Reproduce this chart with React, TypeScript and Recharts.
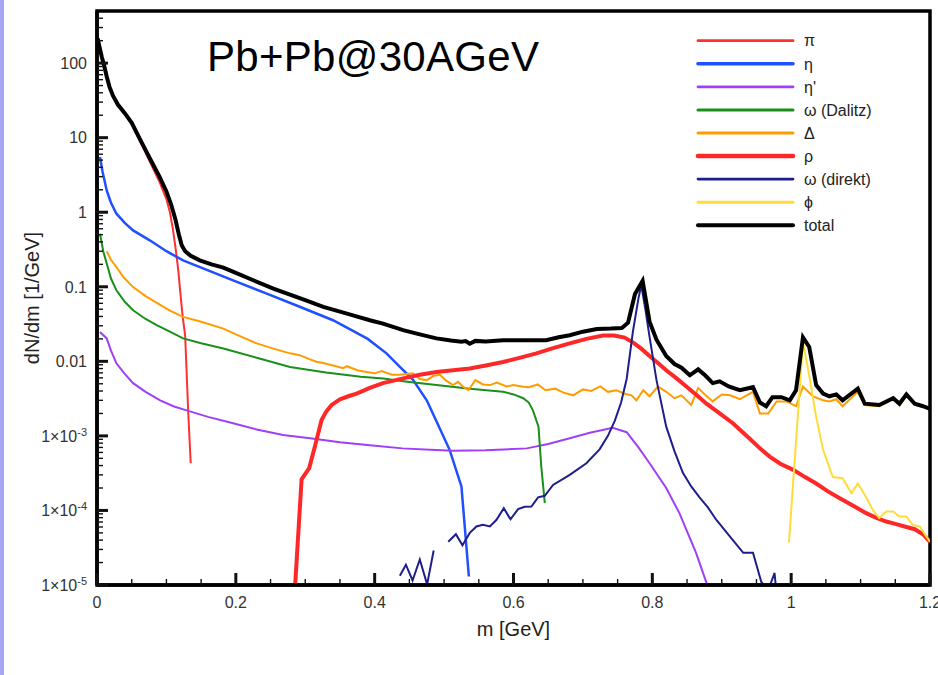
import { Legend, Line, LineChart, ReferenceArea, XAxis, YAxis } from 'recharts'

type Pt = [number, number | null]

// m [GeV], dN/dm [1/GeV]
const PI: Pt[] = [
  [0.001, 212], [0.004, 156], [0.007, 118], [0.01, 94], [0.014, 65], [0.018, 47.5],
  [0.023, 36], [0.03, 27.3], [0.04, 20.8], [0.05, 15.3], [0.06, 9.8], [0.07, 6.3],
  [0.08, 4.0], [0.09, 2.55], [0.1, 1.5], [0.105, 1.0], [0.109, 0.62], [0.113, 0.34],
  [0.117, 0.17], [0.1205, 0.075], [0.1234, 0.04], [0.127, 0.022], [0.1315, 0.002],
  [0.135, 0.00043],
]

const ETA: Pt[] = [
  [0.0043, 5.5], [0.008, 3.5], [0.014, 1.96], [0.02, 1.35], [0.028, 0.955], [0.04, 0.72],
  [0.052, 0.57], [0.076, 0.42], [0.1, 0.3], [0.124, 0.226], [0.16, 0.166], [0.196, 0.122],
  [0.24, 0.084], [0.292, 0.054], [0.34, 0.0356], [0.39, 0.02], [0.417, 0.0128],
  [0.44, 0.0078], [0.455, 0.0057], [0.475, 0.003], [0.49, 0.0015], [0.508, 0.00065],
  [0.525, 0.00021], [0.5357, 0.000013],
]

const ETA_PRIME: Pt[] = [
  [0.0043, 0.0248], [0.014, 0.0203], [0.02, 0.014], [0.028, 0.0094], [0.04, 0.0068],
  [0.052, 0.0051], [0.07, 0.0039], [0.091, 0.003], [0.11, 0.0025], [0.129, 0.0022],
  [0.16, 0.0018], [0.196, 0.00148], [0.23, 0.00122], [0.268, 0.00103], [0.307, 0.00093],
  [0.35, 0.00082], [0.393, 0.00075], [0.44, 0.00068], [0.48, 0.00065], [0.513, 0.00063],
  [0.56, 0.00064], [0.619, 0.00068], [0.65, 0.00078], [0.681, 0.00093], [0.71, 0.0011],
  [0.743, 0.00128], [0.763, 0.00112], [0.78, 0.0007], [0.796, 0.00043], [0.82, 0.0002],
  [0.839, 0.000092], [0.863, 0.000027], [0.878, 0.0000107], [0.885, 0.000007],
]

const OMEGA_DALITZ: Pt[] = [
  [0.0043, 0.515], [0.009, 0.3], [0.014, 0.205], [0.02, 0.13], [0.028, 0.0897],
  [0.04, 0.063], [0.052, 0.0484], [0.07, 0.037], [0.086, 0.0305], [0.105, 0.025],
  [0.124, 0.0203], [0.15, 0.0175], [0.182, 0.0149], [0.23, 0.0112], [0.278, 0.0084],
  [0.33, 0.0071], [0.38, 0.0062], [0.412, 0.0059], [0.45, 0.0053], [0.489, 0.0048],
  [0.537, 0.0043], [0.585, 0.0039], [0.6, 0.0036], [0.614, 0.0032], [0.622, 0.0028],
  [0.628, 0.0022], [0.636, 0.00133], [0.64, 0.00039], [0.6451, 0.000125],
]

const DELTA: Pt[] = [
  [0.014, 0.3], [0.02, 0.23], [0.028, 0.184], [0.038, 0.135], [0.052, 0.099], [0.07, 0.075],
  [0.088, 0.0596], [0.105, 0.048], [0.124, 0.0395], [0.15, 0.034], [0.182, 0.0275],
  [0.205, 0.022], [0.23, 0.0174], [0.254, 0.0148], [0.278, 0.0128], [0.292, 0.0121],
  [0.305, 0.0108], [0.316, 0.0099], [0.326, 0.0095], [0.34, 0.0088], [0.355, 0.0081],
  [0.36, 0.0086], [0.375, 0.0076], [0.388, 0.0072], [0.4, 0.0069], [0.41, 0.0074],
  [0.425, 0.0066], [0.436, 0.0066], [0.455, 0.0069], [0.465, 0.0058], [0.475, 0.0056],
  [0.485, 0.0064], [0.494, 0.0066], [0.503, 0.0055], [0.513, 0.0048], [0.52, 0.0053],
  [0.527, 0.0046], [0.535, 0.0041], [0.545, 0.0056], [0.556, 0.0049], [0.566, 0.0048],
  [0.576, 0.0052], [0.59, 0.0046], [0.6, 0.0048], [0.612, 0.0046], [0.622, 0.0045],
  [0.635, 0.0049], [0.646, 0.0041], [0.66, 0.0043], [0.672, 0.0038], [0.686, 0.0035],
  [0.7, 0.0042], [0.712, 0.004], [0.725, 0.0046], [0.736, 0.0039], [0.748, 0.0041],
  [0.759, 0.0037], [0.77, 0.0035], [0.777, 0.003], [0.787, 0.0041], [0.796, 0.0034],
  [0.808, 0.0046], [0.82, 0.0039], [0.832, 0.0032], [0.842, 0.0035], [0.856, 0.0026],
  [0.866, 0.0044], [0.874, 0.0037], [0.887, 0.0029], [0.9, 0.0036], [0.912, 0.0035],
  [0.926, 0.0031], [0.945, 0.0039], [0.955, 0.002], [0.967, 0.002], [0.979, 0.0029],
  [0.993, 0.0029], [1.007, 0.0025], [1.017, 0.0046], [1.031, 0.0034], [1.046, 0.003],
  [1.055, 0.0029], [1.065, 0.0031], [1.074, 0.0025], [1.096, 0.0039], [1.106, 0.0026],
  [1.127, 0.0025], [1.147, 0.0032], [1.156, 0.0026], [1.166, 0.0034], [1.178, 0.0027],
  [1.19, 0.0025], [1.2, 0.0023],
]

const RHO: Pt[] = [
  [0.2835, 0.000005], [0.2947, 0.00026], [0.3057, 0.00037], [0.3135, 0.0007],
  [0.3235, 0.00163], [0.33, 0.0021], [0.338, 0.0026], [0.35, 0.0031], [0.362, 0.0034],
  [0.374, 0.0037], [0.393, 0.0044],
  [0.412, 0.0051], [0.441, 0.0059], [0.465, 0.0066], [0.489, 0.0072], [0.513, 0.0076],
  [0.537, 0.008], [0.56, 0.0088], [0.585, 0.0098], [0.61, 0.0112], [0.633, 0.0128],
  [0.657, 0.015], [0.681, 0.0174], [0.705, 0.02], [0.729, 0.0222], [0.745, 0.0222],
  [0.76, 0.0208], [0.772, 0.018], [0.784, 0.0148], [0.796, 0.0118], [0.808, 0.0095],
  [0.82, 0.0076], [0.835, 0.0059], [0.849, 0.0046], [0.864, 0.0035], [0.878, 0.0027],
  [0.897, 0.002], [0.916, 0.00148], [0.94, 0.00092], [0.955, 0.00068], [0.97, 0.00052],
  [0.985, 0.00042], [1.003, 0.00035], [1.02, 0.00028], [1.036, 0.00023], [1.053, 0.00018],
  [1.07, 0.000146], [1.09, 0.000115], [1.108, 0.000092], [1.122, 0.00008], [1.137, 0.000071],
  [1.15, 0.000066], [1.166, 0.00006], [1.178, 0.000056], [1.19, 0.000048], [1.2, 0.000038],
]

const OMEGA_DIREKT: Pt[] = [
  [0.4363, 0.0000133], [0.445, 0.0000187], [0.4546, 0.0000115], [0.465, 0.000022],
  [0.4756, 0.0000102], [0.485, 0.000029], [0.495, null], [0.506, 0.000038],
  [0.517, 0.000048], [0.5265, 0.000034], [0.537, 0.00005], [0.5466, 0.000061],
  [0.556, 0.000064], [0.566, 0.000061], [0.5755, 0.000075], [0.586, 0.000107],
  [0.5957, 0.000076], [0.6066, 0.000104], [0.616, 0.000112], [0.6258, 0.000113],
  [0.6354, 0.00015], [0.645, 0.000157], [0.657, 0.00022], [0.681, 0.0003], [0.705, 0.00043],
  [0.724, 0.00066], [0.736, 0.001], [0.746, 0.0016], [0.755, 0.0028], [0.763, 0.0058],
  [0.772, 0.025], [0.78, 0.07], [0.784, 0.105], [0.79, 0.05], [0.796, 0.0213],
  [0.806, 0.0056], [0.82, 0.00133], [0.832, 0.00062], [0.844, 0.00032], [0.856, 0.00021],
  [0.868, 0.00015], [0.88, 0.00011], [0.892, 0.000075], [0.904, 0.000055], [0.916, 0.00004],
  [0.931, 0.000027], [0.945, 0.000027], [0.957, 0.000011], [0.967, 0.0000085],
  [0.976, 0.0000145], [0.982, 0.000004],
]

const PHI: Pt[] = [
  [0.9968, 0.000037], [1.017, 0.018], [1.026, 0.0065], [1.036, 0.0018], [1.046, 0.00065],
  [1.06, 0.00028], [1.074, 0.00027], [1.087, 0.00017], [1.096, 0.00023], [1.108, 0.00015],
  [1.118, 0.0001], [1.127, 0.000079], [1.137, 0.000097], [1.147, 0.000097],
  [1.156, 0.000083], [1.166, 0.000083], [1.175, 0.000064], [1.185, 0.000061], [1.2, 0.000038],
]

const TOTAL: Pt[] = [
  [0.001, 215], [0.004, 158], [0.007, 120], [0.01, 95], [0.014, 66], [0.018, 48],
  [0.023, 36.5], [0.03, 27.8], [0.04, 21.3], [0.05, 15.8], [0.06, 10.3], [0.07, 6.8],
  [0.08, 4.5], [0.09, 3.0], [0.1, 1.9], [0.107, 1.25], [0.113, 0.8], [0.118, 0.5],
  [0.122, 0.36], [0.127, 0.3], [0.135, 0.26], [0.148, 0.226],
  [0.165, 0.2], [0.182, 0.181], [0.2, 0.154], [0.22, 0.128], [0.254, 0.0946], [0.28, 0.077],
  [0.3, 0.066], [0.326, 0.0537], [0.35, 0.0464], [0.37, 0.041], [0.393, 0.0356],
  [0.412, 0.032], [0.441, 0.0262], [0.465, 0.023], [0.489, 0.0203], [0.51, 0.019],
  [0.525, 0.0183], [0.531, 0.0187], [0.537, 0.0172], [0.545, 0.0188], [0.56, 0.0185],
  [0.585, 0.0192], [0.61, 0.0192], [0.647, 0.0192], [0.665, 0.021], [0.681, 0.0224],
  [0.7, 0.025], [0.72, 0.0272], [0.74, 0.0275], [0.756, 0.028], [0.765, 0.033],
  [0.775, 0.08], [0.786, 0.12], [0.796, 0.034], [0.806, 0.0195], [0.82, 0.0118],
  [0.832, 0.0092], [0.842, 0.0082], [0.854, 0.0065], [0.866, 0.0078], [0.876, 0.0065],
  [0.887, 0.0051], [0.897, 0.0054], [0.91, 0.0046], [0.926, 0.0041], [0.945, 0.0045],
  [0.955, 0.0028], [0.964, 0.0025], [0.973, 0.0033], [0.986, 0.0033], [0.998, 0.003],
  [1.007, 0.0041], [1.017, 0.021], [1.026, 0.0156], [1.036, 0.0048], [1.046, 0.0037],
  [1.055, 0.0034], [1.065, 0.0036], [1.074, 0.003], [1.096, 0.0043], [1.106, 0.0027],
  [1.127, 0.0026], [1.147, 0.0032], [1.156, 0.0027], [1.166, 0.0036], [1.178, 0.0027],
  [1.19, 0.0025], [1.2, 0.0023],
]

const SERIES = [
  { name: 'π', color: '#ff3030', width: 2, legendWidth: 2.8, data: PI },
  { name: 'η', color: '#1f4fff', width: 2.5, legendWidth: 3.6, data: ETA },
  { name: "η'", color: '#9f3ff7', width: 2, legendWidth: 2.8, data: ETA_PRIME },
  { name: 'ω (Dalitz)', color: '#1a8f1a', width: 2, legendWidth: 3, data: OMEGA_DALITZ },
  { name: 'Δ', color: '#ff9c00', width: 2, legendWidth: 3, data: DELTA },
  { name: 'ρ', color: '#ff2828', width: 4, legendWidth: 4.6, data: RHO },
  { name: 'ω (direkt)', color: '#1e1e8c', width: 2, legendWidth: 2.8, data: OMEGA_DIREKT },
  { name: 'ϕ', color: '#ffdc3a', width: 2, legendWidth: 3, data: PHI },
  { name: 'total', color: '#000000', width: 4, legendWidth: 4, data: TOTAL },
]

const Y_DECADES = [1e-5, 1e-4, 1e-3, 0.01, 0.1, 1, 10, 100]
const Y_MINOR = [2, 3, 4, 5, 6, 7, 8, 9]
const Y_MAX = 500
const Y_TICKS = Y_DECADES.flatMap((d) => [d, ...Y_MINOR.map((k) => k * d)]).filter((v) => v < Y_MAX)

const X_TICKS = Array.from({ length: 25 }, (_, i) => i * 0.05)

const toRows = (pts: Pt[]) => pts.map(([m, v]) => ({ m, v }))

const isDecade = (v: number) => Math.abs(Math.log10(v) - Math.round(Math.log10(v))) < 1e-6

const YTick = ({ x, y, payload }: any) => {
  const v = payload.value as number
  const axisX = x + 10
  const major = isDecade(v)
  const exp = Math.round(Math.log10(v))
  return (
    <g>
      <line x1={axisX} x2={axisX + (major ? 11 : 6)} y1={y} y2={y} stroke='#111' strokeWidth={major ? 3 : 1.4} />
      {major && (
        <text x={x} y={y} dy='0.36em' textAnchor='end' fontSize={16} fill='#333'>
          {exp >= -2 ? (
            String(Number(v.toFixed(2)))
          ) : (
            <>
              <tspan>1×10</tspan>
              <tspan dy={-6} fontSize={11}>{exp}</tspan>
            </>
          )}
        </text>
      )}
    </g>
  )
}

const XTick = ({ x, y, payload, index }: any) => {
  const axisY = y - 12
  const major = index % 4 === 0
  return (
    <g>
      <line x1={x} x2={x} y1={axisY} y2={axisY - (major ? 12 : 6)} stroke='#111' strokeWidth={major ? 3 : 1.4} />
      {major && (
        <text x={x} y={y} dy='0.71em' textAnchor='middle' fontSize={16} fill='#333'>
          {String(Math.round(payload.value * 10) / 10)}
        </text>
      )}
    </g>
  )
}

const YTitle = ({ viewBox }: any) => {
  const cx = viewBox.x + 25
  const cy = viewBox.y + viewBox.height / 2
  return (
    <text x={cx} y={cy} transform={`rotate(-90 ${cx} ${cy})`} textAnchor='middle' dy='0.35em' fontSize={20} fill='#222'>
      dN/dm [1/GeV]
    </text>
  )
}

const XTitle = ({ viewBox }: any) => (
  <text x={viewBox.x + viewBox.width / 2} y={viewBox.y + 51} textAnchor='middle' fontSize={20} fill='#222'>
    m [GeV]
  </text>
)

const LegendBox = () => (
  <svg width={240} height={220}>
    {SERIES.map((s, i) => {
      const y = 12.7 + i * 23.07
      return (
        <g key={s.name}>
          <line x1={8} x2={103} y1={y} y2={y} stroke={s.color} strokeWidth={s.legendWidth} strokeLinecap='round' />
          <text x={114} y={y} dy='0.36em' fontSize={16} fill='#222' fontFamily='"Liberation Sans", Arial, sans-serif'>
            {s.name}
          </text>
        </g>
      )
    })}
  </svg>
)

export default function App() {
  return (
    <div
      style={{
        position: 'absolute',
        left: 0,
        top: 0,
        width: 938,
        height: 675,
        background: '#fff',
        fontFamily: '"Liberation Sans", Arial, sans-serif',
      }}
    >
      <div style={{ position: 'absolute', left: 0, top: 0, width: 4, height: 675, background: '#a6a6f2' }} />
      <LineChart width={938} height={675} margin={{ top: 11, right: 8, bottom: 40, left: 7 }}>
        <XAxis
          type='number'
          dataKey='m'
          domain={[0, 1.2]}
          allowDataOverflow
          ticks={X_TICKS}
          interval={0}
          tickSize={0}
          tickMargin={12}
          tick={<XTick />}
          height={50}
          axisLine={{ stroke: '#000', strokeWidth: 3.5 }}
          label={<XTitle />}
        />
        <YAxis
          scale='log'
          domain={[1e-5, Y_MAX]}
          allowDataOverflow
          ticks={Y_TICKS}
          interval={0}
          tickSize={0}
          tickMargin={10}
          tick={<YTick />}
          width={90}
          axisLine={{ stroke: '#000', strokeWidth: 3.5 }}
          label={<YTitle />}
        />
        <ReferenceArea x1={0} x2={1.2} y1={1e-5} y2={Y_MAX} fill='none' stroke='#000' strokeWidth={3.5} />
        {SERIES.map((s) => (
          <Line
            key={s.name}
            data={toRows(s.data)}
            dataKey='v'
            name={s.name}
            type='linear'
            stroke={s.color}
            strokeWidth={s.width}
            dot={false}
            activeDot={false}
            isAnimationActive={false}
          />
        ))}
        <Legend
          layout='vertical'
          align='center'
          verticalAlign='middle'
          wrapperStyle={{ left: 690, top: 28, width: 240, height: 220 }}
          content={() => <LegendBox />}
        />
      </LineChart>
      <div
        style={{
          position: 'absolute',
          left: 207,
          top: 36,
          fontSize: 42,
          lineHeight: '42px',
          letterSpacing: 0.3,
          color: '#000',
          whiteSpace: 'nowrap',
        }}
      >
        Pb+Pb@30AGeV
      </div>
    </div>
  )
}
